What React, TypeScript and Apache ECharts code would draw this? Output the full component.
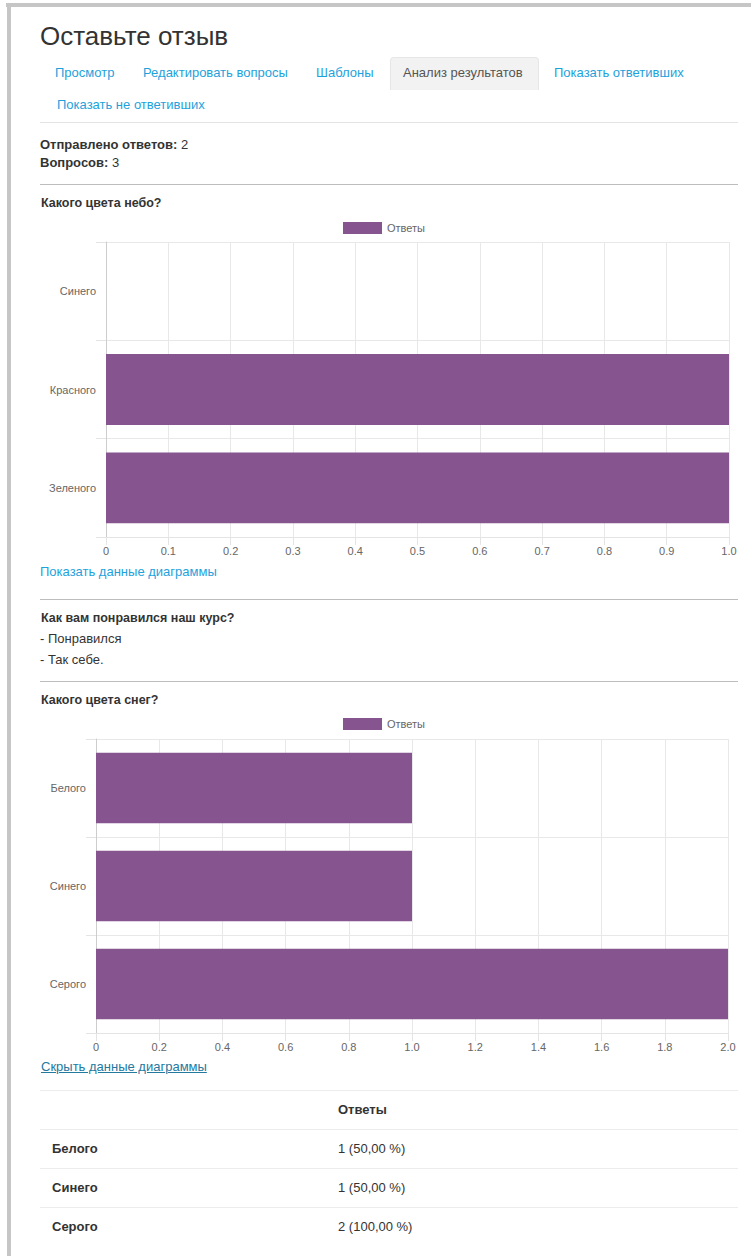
import React, { useEffect, useRef } from "react";
import * as echarts from "echarts";

const seriesName = "Ответы";
const skyCategories = ["Синего", "Красного", "Зеленого"];
const skyValues = [0, 1, 1];
const skyMax = 1;
const skyInterval = 0.1;

const snowCategories = ["Белого", "Синего", "Серого"];
const snowValues = [1, 1, 2];
const snowMax = 2;
const snowInterval = 0.2;

const responsesCount = 2;
const questionsCount = 3;

const tabs = ["Просмотр", "Редактировать вопросы", "Шаблоны", "Анализ результатов", "Показать ответивших"];
const tabX = [55, 143, 316, 403, 554];
const courseAnswers = ["- Понравился", "- Так себе."];

const FONT = "'Liberation Sans', Arial, Helvetica, sans-serif";
const BAR = "#86548f";
const LINK = "#1ea2dc";

function fmt(v: number) {
  return v === 0 ? "0" : v.toFixed(1);
}

function buildOption(cats: string[], vals: number[], max: number, interval: number, grid: any, legendTop: number) {
  return {
    animation: false,
    textStyle: { fontFamily: FONT },
    legend: {
      data: [seriesName],
      left: 343,
      top: legendTop,
      padding: 0,
      icon: "rect",
      itemWidth: 39,
      itemHeight: 12,
      itemGap: 5,
      textStyle: { fontSize: 11, color: "#666", fontFamily: FONT },
    },
    grid,
    xAxis: {
      type: "value",
      min: 0,
      max,
      interval,
      axisLine: { show: true, lineStyle: { color: "#e4e4e4" } },
      axisTick: { show: true, length: 8, lineStyle: { color: "#e4e4e4" } },
      axisLabel: { fontSize: 11, color: "#666", margin: 8, formatter: (v: number) => fmt(v), fontFamily: FONT },
      splitLine: { show: true, lineStyle: { color: "#e8e8e8" } },
    },
    yAxis: {
      type: "category",
      inverse: true,
      data: cats,
      axisLine: { show: true, lineStyle: { color: "#cdcdcd" } },
      axisTick: { show: true, length: 10, lineStyle: { color: "#e4e4e4" } },
      axisLabel: { fontSize: 11, color: "#666", margin: 10, fontFamily: FONT },
      splitLine: { show: true, lineStyle: { color: "#e8e8e8" } },
    },
    series: [
      {
        type: "bar",
        name: seriesName,
        data: vals,
        barCategoryGap: "28%",
        itemStyle: { color: BAR, borderWidth: 0 },
      },
    ],
  };
}

function Chart({ option, style }: { option: any; style: React.CSSProperties }) {
  const ref = useRef<HTMLDivElement>(null);
  useEffect(() => {
    if (!ref.current) return;
    const c = echarts.init(ref.current, null, { renderer: "svg" });
    c.setOption(option);
    return () => c.dispose();
  }, []);
  return <div ref={ref} style={{ position: "absolute", ...style }} />;
}

function T({ x, y, children, size = 13, bold = false, color = "#333", lh = 18, extra = {} }: any) {
  return (
    <div
      style={{
        position: "absolute",
        left: x,
        top: y - lh / 2,
        fontSize: size,
        lineHeight: lh + "px",
        fontWeight: bold ? "bold" : "normal",
        color,
        whiteSpace: "nowrap",
        ...extra,
      }}
    >
      {children}
    </div>
  );
}

function HR({ y, color }: { y: number; color: string }) {
  return <div style={{ position: "absolute", left: 40, top: y, width: 698, height: 1, background: color }} />;
}

export default function App() {
  const opt1 = buildOption(skyCategories, skyValues, skyMax, skyInterval, { left: 106, right: 22, top: 32, bottom: 25 }, 12);
  const opt2 = buildOption(snowCategories, snowValues, snowMax, snowInterval, { left: 96, right: 23, top: 29, bottom: 29 }, 8);
  const total = responsesCount;
  const rowsY = [1149, 1188, 1227];
  return (
    <div
      style={{
        position: "fixed",
        left: 0,
        top: 0,
        width: 751,
        height: 1256,
        overflow: "hidden",
        background: "#fff",
        fontFamily: FONT,
        color: "#333",
      }}
    >
      <div style={{ position: "absolute", left: 6, top: 3, width: 745, height: 4, background: "#c6c6c6" }} />
      <div style={{ position: "absolute", left: 7, top: 3, width: 4, height: 1256, background: "#c6c6c6" }} />

      <T x={40} y={36} size={26} lh={32}>Оставьте отзыв</T>

      <div
        style={{
          position: "absolute",
          left: 390,
          top: 57,
          width: 147,
          height: 32,
          background: "#f2f2f2",
          border: "1px solid #e6e6e6",
          borderBottom: "none",
          borderRadius: "4px 4px 0 0",
        }}
      />
      {tabs.map((t, i) => (
        <T key={t} x={tabX[i]} y={73} color={i === 3 ? "#555" : LINK}>
          {t}
        </T>
      ))}
      <T x={57} y={105} color={LINK}>Показать не ответивших</T>
      <HR y={122} color="#e3e3e3" />

      <T x={40} y={145}>
        <b>Отправлено ответов:</b> {responsesCount}
      </T>
      <T x={40} y={163}>
        <b>Вопросов:</b> {questionsCount}
      </T>
      <HR y={184} color="#bdbdbd" />

      <T x={41} y={203} bold size={12.5}>Какого цвета небо?</T>
      <Chart option={opt1} style={{ left: 0, top: 210, width: 751, height: 352 }} />
      <T x={40} y={572} color={LINK}>Показать данные диаграммы</T>
      <HR y={599} color="#bdbdbd" />

      <T x={41} y={618} bold size={12.5}>Как вам понравился наш курс?</T>
      {courseAnswers.map((a, i) => (
        <T key={a} x={40} y={639 + i * 21}>
          {a}
        </T>
      ))}
      <HR y={681} color="#bdbdbd" />

      <T x={41} y={700} bold size={12.5}>Какого цвета снег?</T>
      <Chart option={opt2} style={{ left: 0, top: 710, width: 751, height: 352 }} />
      <T x={41} y={1067} color="#24799f" extra={{ textDecoration: "underline" }}>
        Скрыть данные диаграммы
      </T>

      <HR y={1090} color="#ececec" />
      <T x={338} y={1110} bold>{seriesName}</T>
      {snowCategories.map((c, i) => (
        <React.Fragment key={c}>
          <HR y={rowsY[i] - 20} color="#ececec" />
          <T x={52} y={rowsY[i]} bold>{c}</T>
          <T x={338} y={rowsY[i]}>
            {snowValues[i]} ({((snowValues[i] / total) * 100).toFixed(2).replace(".", ",")} %)
          </T>
        </React.Fragment>
      ))}
    </div>
  );
}
